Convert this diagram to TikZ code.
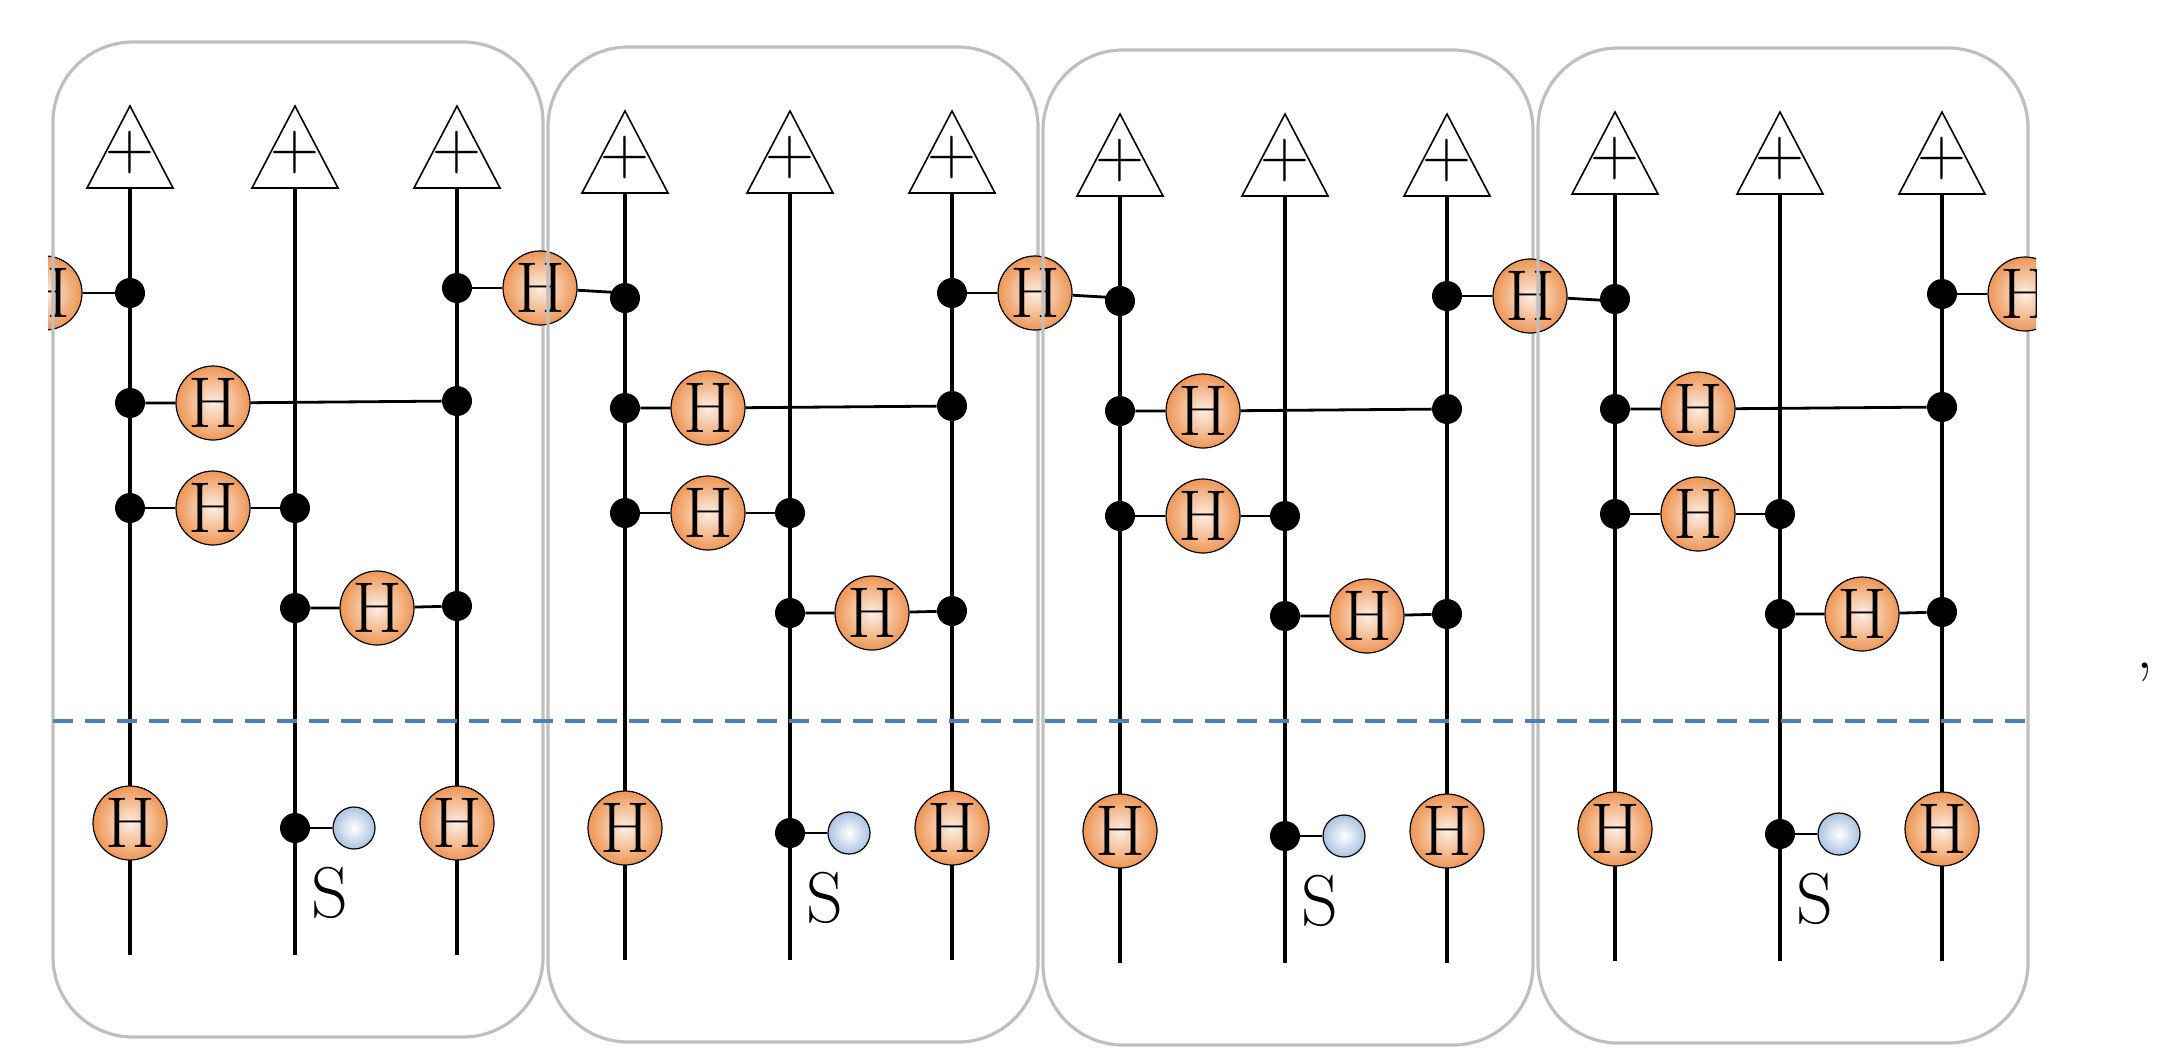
\documentclass[tikz,border=0pt]{standalone}
\usetikzlibrary{shapes.geometric}
\begin{document}
\definecolor{hor}{RGB}{238,150,85}
\definecolor{sbl}{RGB}{170,195,225}
\definecolor{dashblue}{RGB}{80,125,190}
\begin{tikzpicture}[x=0.5pt,y=-0.5pt,
  wire/.style={line width=2.3pt},
  lnk/.style={line width=1.4pt},
  dot/.style={circle,fill=black,inner sep=0pt,minimum size=15pt},
  had/.style={circle,draw=black,line width=0.6pt,inner sep=0pt,minimum size=37pt,inner color=hor!15,outer color=hor,font=\fontsize{36}{36}\selectfont},
  sq/.style={circle,draw=black,line width=0.6pt,inner sep=0pt,minimum size=21pt,inner color=white,outer color=sbl},
  tri/.style={draw=black,line width=0.8pt,fill=white},
  box/.style={draw=black!25,line width=1.6pt,rounded corners=40pt}]
\useasboundingbox (0,0) rectangle (2173,1062);
\begin{scope}
\clip (48,0) rectangle (2036,1062);
\node[had] (hl) at (45,293) {H};
\foreach \b/\dy in {0/0,1/5,2/8,3/6}{
  \begin{scope}[shift={(\b*495,\dy)}]
  \draw[box] (53,42) rectangle (543,1037);
  \foreach \w/\x in {1/130,2/295,3/457}{
    \draw[wire] (\x,188) -- (\x,955);
    \draw[tri] (\x,106) -- (\x-43,188) -- (\x+43,188) -- cycle;
    \node[font=\fontsize{34}{34}\selectfont,inner sep=0pt] at (\x,153) {+};
  }
  \node[dot] (a\b) at (130,293) {};
  \node[dot] (r\b) at (457,288) {};
  \node[had] (hr\b) at (540,288) {H};
  \draw[lnk] (r\b) -- (hr\b);
  \draw[lnk] (hr\b) -- ++(85,5);
  \node[dot] (b1\b) at (130,403) {};
  \node[had] (bh\b) at (213,403) {H};
  \node[dot] (b3\b) at (457,401) {};
  \draw[lnk] (b1\b) -- (bh\b) -- (b3\b);
  \node[dot] (c1\b) at (130,508) {};
  \node[had] (ch\b) at (213,508) {H};
  \node[dot] (c2\b) at (295,508) {};
  \draw[lnk] (c1\b) -- (ch\b) -- (c2\b);
  \node[dot] (d2\b) at (295,608) {};
  \node[had] (dh\b) at (377,608) {H};
  \node[dot] (d3\b) at (457,606) {};
  \draw[lnk] (d2\b) -- (dh\b) -- (d3\b);
  \node[had] (e1\b) at (130,823) {H};
  \node[had] (e3\b) at (457,823) {H};
  \node[dot] (s\b) at (295,828) {};
  \node[sq] (sc\b) at (354,828) {};
  \draw[lnk] (s\b) -- (sc\b);
  \node[font=\fontsize{36}{36}\selectfont] (sl\b) at (330,893) {S};
  \end{scope}
}
\draw[lnk] (hl) -- (a0);
\draw[dashblue,line width=2pt,dash pattern=on 10pt off 6pt] (53,721) -- (2036,721);
\end{scope}
\node[font=\fontsize{34}{34}\selectfont] (cm) at (2145,672) {,};
\end{tikzpicture}
\end{document}
